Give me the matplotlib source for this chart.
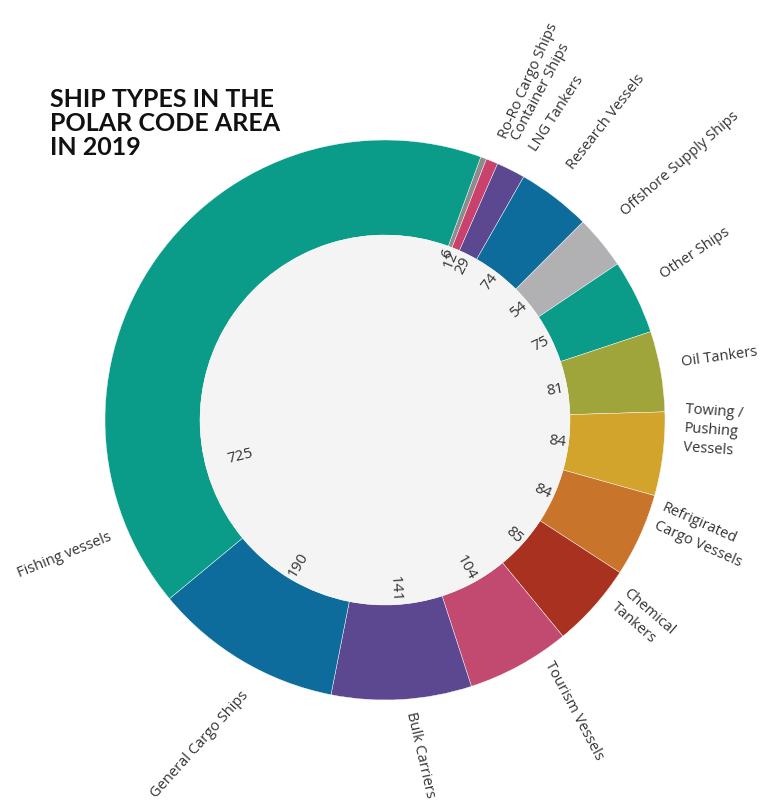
import matplotlib.pyplot as plt
import numpy as np
from matplotlib.patches import Circle

# Ship types in the Polar Code area, 2019 (clockwise from the top)
ship_types = ["Ro-Ro Cargo Ships", "Container Ships", "LNG Tankers", "Research Vessels",
              "Offshore Supply Ships", "Other Ships", "Oil Tankers", "Towing /\nPushing\nVessels",
              "Refrigirated\nCargo Vessels", "Chemical\nTankers", "Tourism Vessels",
              "Bulk Carriers", "General Cargo Ships", "Fishing vessels"]
ship_counts = [6, 12, 29, 74, 54, 75, 81, 84, 84, 85, 104, 141, 190, 725]
ship_colors = ["#8c8c8c", "#c9426d", "#5b4891", "#0e6c9c", "#b1b1b3", "#0a9c88", "#9fa43b",
               "#d3a42b", "#c8742b", "#a8321f", "#c24a70", "#5b4891", "#0e6c9c", "#0a9c88"]

# outer label layout: angle from north (deg), radius (px), rotation, ha
label_layout = [(22.7, 306, 66, "left"), (24.9, 309, 62, "left"), (28.7, 308, 57, "left"),
                (36.3, 313, 52, "left"), (49.0, 315, 41, "left"), (62.5, 312, 34, "left"),
                (79.0, 302, 8, "left"), (86.5, 302, -4, "left"), (106.0, 292, -24, "left"),
                (124.0, 296, -41, "left"), (146.0, 292, -62, "left"), (175.0, 293, -77, "left"),
                (207.0, 307, 48, "right"), (247.0, 298, 22, "right")]

W, H = 766, 805
cx, cy = 385, H - 420
R, r_in = 280, 185

fig = plt.figure(figsize=(W / 100, H / 100), dpi=100)
ax = fig.add_axes([0, 0, 1, 1])

wedges, _ = ax.pie(ship_counts, colors=ship_colors, startangle=70, counterclock=False,
                   radius=R, center=(cx, cy),
                   wedgeprops=dict(width=R - r_in, edgecolor="white", linewidth=0.3))
ax.add_patch(Circle((cx, cy), r_in, facecolor="#f4f4f4", edgecolor="none", zorder=1))
ax.set_xlim(0, W)
ax.set_ylim(0, H)
ax.set_aspect("equal")
ax.axis("off")

# counts inside the ring
for i, w in enumerate(wedges):
    frac, rad = (0.17, 163) if i == len(wedges) - 1 else (0.5, 182)
    a = w.theta2 - frac * (w.theta2 - w.theta1)
    a = (a + 180) % 360 - 180
    x = cx + rad * np.cos(np.radians(a))
    y = cy + rad * np.sin(np.radians(a))
    if -90 <= a <= 90:
        rot, ha = a, "right"
    else:
        rot, ha = a - 180, "left"
    ax.text(x, y, str(ship_counts[i]), rotation=rot, rotation_mode="anchor", ha=ha,
            va="center", fontsize=11, color="#333333", family="Open Sans", zorder=3)

# ship type names outside the ring
for name, (ang, rad, rot, ha) in zip(ship_types, label_layout):
    x = cx + rad * np.sin(np.radians(ang))
    y = cy + rad * np.cos(np.radians(ang))
    va = "top" if "\n" in name else "center"
    ax.text(x, y, name, rotation=rot, rotation_mode="anchor", ha=ha, va=va,
            fontsize=10.5, color="#333333", family="Open Sans", linespacing=1.4)

ax.text(50, H - 88, "SHIP TYPES IN THE\nPOLAR CODE AREA\nIN 2019", ha="left", va="top",
        fontsize=18, fontweight="bold", family="Lato", color="#111111", linespacing=1.05)

plt.savefig("out.png", dpi=100)
